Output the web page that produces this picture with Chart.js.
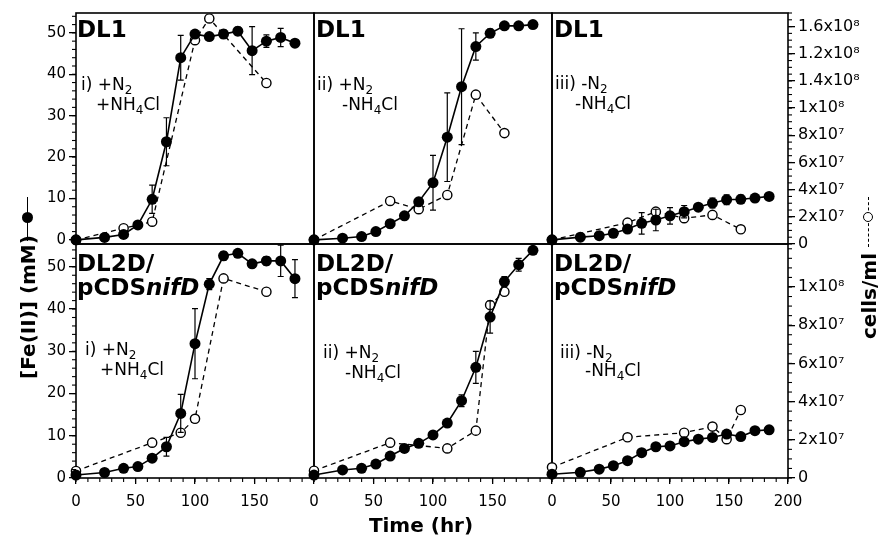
<!DOCTYPE html>
<html>
<head>
<meta charset="utf-8">
<script src="https://cdn.jsdelivr.net/npm/chart.js@4.4.1/dist/chart.umd.min.js"></script>
<style>
  body { margin: 0; background: #fff; }
  #wrap { position: relative; width: 880px; height: 537px; overflow: hidden; font-family: "DejaVu Sans", sans-serif; color: #000; }
  canvas { position: absolute; left: 0; top: 0; }
  .lbl { position: absolute; white-space: nowrap; line-height: 1; z-index: 5; }
  .strain { font-weight: bold; font-size: 23px; }
  .cond { font-size: 17px; }
  .cond sub { font-size: 12px; vertical-align: -4px; line-height: 0; }
  .title { font-weight: bold; font-size: 20px; transform: translate(-50%, -50%) rotate(-90deg); }
  .xtitle { font-weight: bold; font-size: 20px; transform: translateX(-50%); }
  .mark { position: absolute; z-index: 5; }
</style>
</head>
<body>
<div id="wrap">
  <canvas id="c0" width="880" height="537"></canvas>
  <canvas id="c1" width="880" height="537"></canvas>
  <canvas id="c2" width="880" height="537"></canvas>
  <canvas id="c3" width="880" height="537"></canvas>
  <canvas id="c4" width="880" height="537"></canvas>
  <canvas id="c5" width="880" height="537"></canvas>

  <div class="lbl strain" style="left:77px;top:18px">DL1</div>
  <div class="lbl strain" style="left:316px;top:18px">DL1</div>
  <div class="lbl strain" style="left:554px;top:18px">DL1</div>
  <div class="lbl strain" style="left:77px;top:252px">DL2D/</div>
  <div class="lbl strain" style="left:77px;top:276px">pCDS<i>nifD</i></div>
  <div class="lbl strain" style="left:316px;top:252px">DL2D/</div>
  <div class="lbl strain" style="left:316px;top:276px">pCDS<i>nifD</i></div>
  <div class="lbl strain" style="left:554px;top:252px">DL2D/</div>
  <div class="lbl strain" style="left:554px;top:276px">pCDS<i>nifD</i></div>

  <div class="lbl cond" style="left:81px;top:76px">i) +N<sub>2</sub></div>
  <div class="lbl cond" style="left:96px;top:96px">+NH<sub>4</sub>Cl</div>
  <div class="lbl cond" style="left:317px;top:76px">ii) +N<sub>2</sub></div>
  <div class="lbl cond" style="left:342px;top:96px">-NH<sub>4</sub>Cl</div>
  <div class="lbl cond" style="left:555px;top:75px">iii) -N<sub>2</sub></div>
  <div class="lbl cond" style="left:575px;top:95px">-NH<sub>4</sub>Cl</div>
  <div class="lbl cond" style="left:85px;top:341px">i) +N<sub>2</sub></div>
  <div class="lbl cond" style="left:100px;top:361px">+NH<sub>4</sub>Cl</div>
  <div class="lbl cond" style="left:323px;top:344px">ii) +N<sub>2</sub></div>
  <div class="lbl cond" style="left:345px;top:364px">-NH<sub>4</sub>Cl</div>
  <div class="lbl cond" style="left:560px;top:344px">iii) -N<sub>2</sub></div>
  <div class="lbl cond" style="left:585px;top:362px">-NH<sub>4</sub>Cl</div>

  <div class="lbl xtitle" style="left:421px;top:515px">Time (hr)</div>
  <div class="lbl title" style="left:28px;top:307px">[Fe(II)] (mM)</div>
  <div class="lbl title" style="left:869px;top:296px">cells/ml</div>

  <div class="mark" style="left:27px;top:197px;width:0;height:44px;border-left:1.5px solid #000"></div>
  <div class="mark" style="left:22px;top:212px;width:11px;height:11px;border-radius:50%;background:#000"></div>
  <div class="mark" style="left:868px;top:197px;width:0;height:50px;border-left:1.5px dashed #000"></div>
  <div class="mark" style="left:863px;top:212px;width:10px;height:10px;border-radius:50%;background:#fff;border:1.4px solid #000;box-sizing:border-box"></div>
</div>

<script>
// sampling times for Fe(II) (hr)
const hours = [0, 24, 40, 52, 64, 76, 88, 100, 112, 124, 136, 148, 160, 172, 184];

// DL1  i) +N2 +NH4Cl
const fe_DL1_i = [0, 0.6, 1.3, 3.6, 9.8, 23.7, 44, 49.7, 49.1, 49.7, 50.4, 45.7, 48, 48.9, 47.5];
const err_DL1_i = [0, 0, 0, 0, 3.4, 5.8, 5.4, 0, 0, 1, 1, 5.8, 1.5, 2.2, 0];
const cellHr_DL1_i = [0, 40, 64, 100, 112, 160];
const cells_DL1_i = [3e6, 1.16e7, 1.64e7, 1.5e8, 1.66e8, 1.185e8];

// DL1  ii) +N2 -NH4Cl
const fe_DL1_ii = [0, 0.4, 0.8, 2.0, 3.9, 5.8, 9.2, 13.8, 24.8, 37, 46.7, 49.9, 51.7, 51.7, 52];
const err_DL1_ii = [0, 0, 0, 0, 1, 0, 0.8, 6.6, 10.7, 14, 3.3, 1, 0, 0, 0];
const cellHr_DL1_ii = [0, 64, 88, 112, 136, 160];
const cells_DL1_ii = [3e6, 3.17e7, 2.56e7, 3.61e7, 1.099e8, 8.16e7];

// DL1  iii) -N2 -NH4Cl
const fe_DL1_iii = [0, 0.65, 1.0, 1.6, 2.6, 4.0, 4.8, 5.8, 6.8, 7.9, 8.9, 9.7, 9.8, 10.1, 10.5];
const err_DL1_iii = [0, 0, 0, 0, 0, 2.6, 2.6, 2, 1.5, 0, 1.2, 1.2, 1, 0, 0];
const cellHr_DL1_iii = [0, 64, 88, 112, 136, 160];
const cells_DL1_iii = [3e6, 1.57e7, 2.38e7, 1.9e7, 2.14e7, 1.08e7];

// DL2D/pCDSnifD  i) +N2 +NH4Cl
const fe_DL2D_i = [0.7, 1.3, 2.3, 2.7, 4.7, 7.4, 15.3, 31.8, 45.9, 52.6, 53.2, 50.7, 51.4, 51.4, 47.2];
const err_DL2D_i = [0, 0, 0, 0, 0, 2.2, 4.5, 8.3, 1.3, 1, 0, 0, 1, 3.7, 4.5];
const cellHr_DL2D_i = [0, 64, 88, 100, 124, 160];
const cells_DL2D_i = [3.7e6, 1.85e7, 2.37e7, 3.1e7, 1.045e8, 9.75e7];

// DL2D/pCDSnifD  ii) +N2 -NH4Cl
const fe_DL2D_ii = [0.7, 1.9, 2.3, 3.3, 5.2, 7.0, 8.2, 10.2, 13.0, 18.3, 26.2, 38.1, 46.5, 50.5, 53.9];
const err_DL2D_ii = [0, 0, 0, 0, 0, 0, 0, 0, 0, 1.4, 3.8, 3.8, 1.2, 1.5, 0];
const cellHr_DL2D_ii = [0, 64, 112, 136, 148, 160];
const cells_DL2D_ii = [3.8e6, 1.85e7, 1.55e7, 2.48e7, 9.06e7, 9.75e7];

// DL2D/pCDSnifD  iii) -N2 -NH4Cl
const fe_DL2D_iii = [0.9, 1.35, 2.1, 2.9, 4.1, 6.0, 7.4, 7.6, 8.6, 9.2, 9.6, 10.4, 9.8, 11.2, 11.4];
const err_DL2D_iii = [0, 0, 0, 0, 0, 0, 0, 0, 0, 0, 0, 0, 0, 0, 0];
const cellHr_DL2D_iii = [0, 64, 112, 136, 148, 160];
const cells_DL2D_iii = [5.6e6, 2.13e7, 2.37e7, 2.69e7, 2.03e7, 3.56e7];

// axis ticks and labels
const feTicks = [0, 10, 20, 30, 40, 50];
const timeTicks = [0, 50, 100, 150];
const timeTicksLast = [0, 50, 100, 150, 200];
const cellTicksTop = [0, 2e7, 4e7, 6e7, 8e7, 1e8, 1.2e8, 1.4e8, 1.6e8];
const cellLabelsTop = ["0", "2x10⁷", "4x10⁷", "6x10⁷", "8x10⁷", "1x10⁸", "1.4x10⁸", "1.2x10⁸", "1.6x10⁸"];
const cellTicksBottom = [0, 2e7, 4e7, 6e7, 8e7, 1e8];
const cellLabelsBottom = ["0", "2x10⁷", "4x10⁷", "6x10⁷", "8x10⁷", "1x10⁸"];

Chart.defaults.font.family = '"DejaVu Sans", sans-serif';
Chart.defaults.color = "#000";

const LW = 50, RW = 80, BH = 40; // fixed axis sizes
const ranges = {
  top: { fe: [-1, 54.8], cells: [0, 1.70e8], cellTicks: cellTicksTop, cellLabels: cellLabelsTop },
  bottom: { fe: [0, 55.4], cells: [0, 1.225e8], cellTicks: cellTicksBottom, cellLabels: cellLabelsBottom },
};

const panels = [
  { id: "c0", fe: fe_DL1_i, err: err_DL1_i, ch: cellHr_DL1_i, cells: cells_DL1_i, area: [76, 13, 314, 244], row: "top", left: true },
  { id: "c1", fe: fe_DL1_ii, err: err_DL1_ii, ch: cellHr_DL1_ii, cells: cells_DL1_ii, area: [314, 13, 552, 244], row: "top" },
  { id: "c2", fe: fe_DL1_iii, err: err_DL1_iii, ch: cellHr_DL1_iii, cells: cells_DL1_iii, area: [552, 13, 788, 244], row: "top", right: true },
  { id: "c3", fe: fe_DL2D_i, err: err_DL2D_i, ch: cellHr_DL2D_i, cells: cells_DL2D_i, area: [76, 244, 314, 478], row: "bottom", left: true, bottom: true },
  { id: "c4", fe: fe_DL2D_ii, err: err_DL2D_ii, ch: cellHr_DL2D_ii, cells: cells_DL2D_ii, area: [314, 244, 552, 478], row: "bottom", bottom: true },
  { id: "c5", fe: fe_DL2D_iii, err: err_DL2D_iii, ch: cellHr_DL2D_iii, cells: cells_DL2D_iii, area: [552, 244, 788, 478], row: "bottom", right: true, bottom: true, last: true },
];

// box around each panel
const framePlugin = {
  id: "frame",
  beforeDatasetsDraw(chart) {
    const a = chart.chartArea, ctx = chart.ctx;
    ctx.save();
    ctx.strokeStyle = "#000";
    ctx.lineWidth = 1.6;
    ctx.strokeRect(a.left, a.top, a.right - a.left, a.bottom - a.top);
    ctx.restore();
  },
};

// small unlabeled ticks between the major ones
function minorTicks(steps) {
  return {
    id: "minorTicks",
    afterDraw(chart) {
      const a = chart.chartArea, ctx = chart.ctx;
      ctx.save();
      ctx.strokeStyle = "#000";
      ctx.lineWidth = 1.1;
      for (const id in steps) {
        const s = chart.scales[id];
        if (!s || !s.options.display) continue;
        for (let k = 0; k * steps[id] <= s.max; k++) {
          const p = s.getPixelForValue(k * steps[id]);
          ctx.beginPath();
          if (id === "x") { ctx.moveTo(p, a.bottom); ctx.lineTo(p, a.bottom + 4); }
          else if (id === "y") { if (p < a.top) continue; ctx.moveTo(a.left, p); ctx.lineTo(a.left - 4, p); }
          else { ctx.moveTo(a.right, p); ctx.lineTo(a.right + 4, p); }
          ctx.stroke();
        }
      }
      ctx.restore();
    },
  };
}

// vertical error bars on the Fe(II) points
function errorBars(vals, errs) {
  return {
    id: "errorBars",
    afterDatasetsDraw(chart) {
      const x = chart.scales.x, y = chart.scales.y, ctx = chart.ctx;
      ctx.save();
      ctx.strokeStyle = "#000";
      ctx.lineWidth = 1.2;
      errs.forEach((e, i) => {
        if (!e) return;
        const px = x.getPixelForValue(hours[i]);
        const hi = y.getPixelForValue(vals[i] + e);
        const lo = y.getPixelForValue(vals[i] - e);
        ctx.beginPath();
        ctx.moveTo(px, hi); ctx.lineTo(px, lo);
        ctx.moveTo(px - 3, hi); ctx.lineTo(px + 3, hi);
        ctx.moveTo(px - 3, lo); ctx.lineTo(px + 3, lo);
        ctx.stroke();
      });
      ctx.restore();
    },
  };
}

function tickGrid(len) {
  return { display: true, drawOnChartArea: false, drawTicks: true, tickLength: len, color: "#000", lineWidth: 1.3 };
}

panels.forEach((p) => {
  const [l, t, r, b] = p.area;
  const rg = ranges[p.row];
  const xTicks = p.last ? timeTicksLast : timeTicks;

  new Chart(document.getElementById(p.id), {
    type: "line",
    data: {
      datasets: [
        {
          data: hours.map((h, i) => ({ x: h, y: p.fe[i] })),
          yAxisID: "y",
          borderColor: "#000",
          borderWidth: 1.6,
          pointRadius: 5.5,
          pointBackgroundColor: "#000",
          pointBorderColor: "#000",
          pointBorderWidth: 0,
          clip: false,
        },
        {
          data: p.ch.map((h, i) => ({ x: h, y: p.cells[i] })),
          yAxisID: "y2",
          borderColor: "#000",
          borderWidth: 1.3,
          borderDash: [5, 4],
          pointRadius: 4.6,
          pointBackgroundColor: "#fff",
          pointBorderColor: "#000",
          pointBorderWidth: 1.4,
          clip: false,
        },
      ],
    },
    options: {
      responsive: false,
      animation: false,
      events: [],
      layout: {
        padding: {
          left: l - (p.left ? LW : 0),
          top: t,
          right: 880 - r - (p.right ? RW : 0),
          bottom: 537 - b - (p.bottom ? BH : 0),
        },
      },
      plugins: { legend: { display: false }, tooltip: { enabled: false } },
      scales: {
        x: {
          type: "linear",
          min: 0,
          max: 200,
          display: !!p.bottom,
          afterBuildTicks: (s) => { s.ticks = xTicks.map((v) => ({ value: v })); },
          afterFit: (s) => { if (p.bottom) s.height = BH; },
          grid: tickGrid(6),
          border: { display: false },
          ticks: { font: { size: 15 }, padding: 9, maxRotation: 0, autoSkip: false },
        },
        y: {
          position: "left",
          min: rg.fe[0],
          max: rg.fe[1],
          display: !!p.left,
          afterBuildTicks: (s) => { s.ticks = feTicks.map((v) => ({ value: v })); },
          afterFit: (s) => { if (p.left) s.width = LW; },
          grid: tickGrid(7),
          border: { display: false },
          ticks: { font: { size: 15 }, padding: 3 },
        },
        y2: {
          position: "right",
          min: rg.cells[0],
          max: rg.cells[1],
          display: !!p.right,
          afterBuildTicks: (s) => { s.ticks = rg.cellTicks.map((v) => ({ value: v })); },
          afterFit: (s) => { if (p.right) s.width = RW; },
          grid: tickGrid(7),
          border: { display: false },
          ticks: {
            font: { size: 16 },
            padding: 3,
            callback: (v) => rg.cellLabels[rg.cellTicks.indexOf(v)],
          },
        },
      },
    },
    plugins: [framePlugin, minorTicks({ x: 10, y: 2, y2: 5e6 }), errorBars(p.fe, p.err)],
  });
});
</script>
</body>
</html>
